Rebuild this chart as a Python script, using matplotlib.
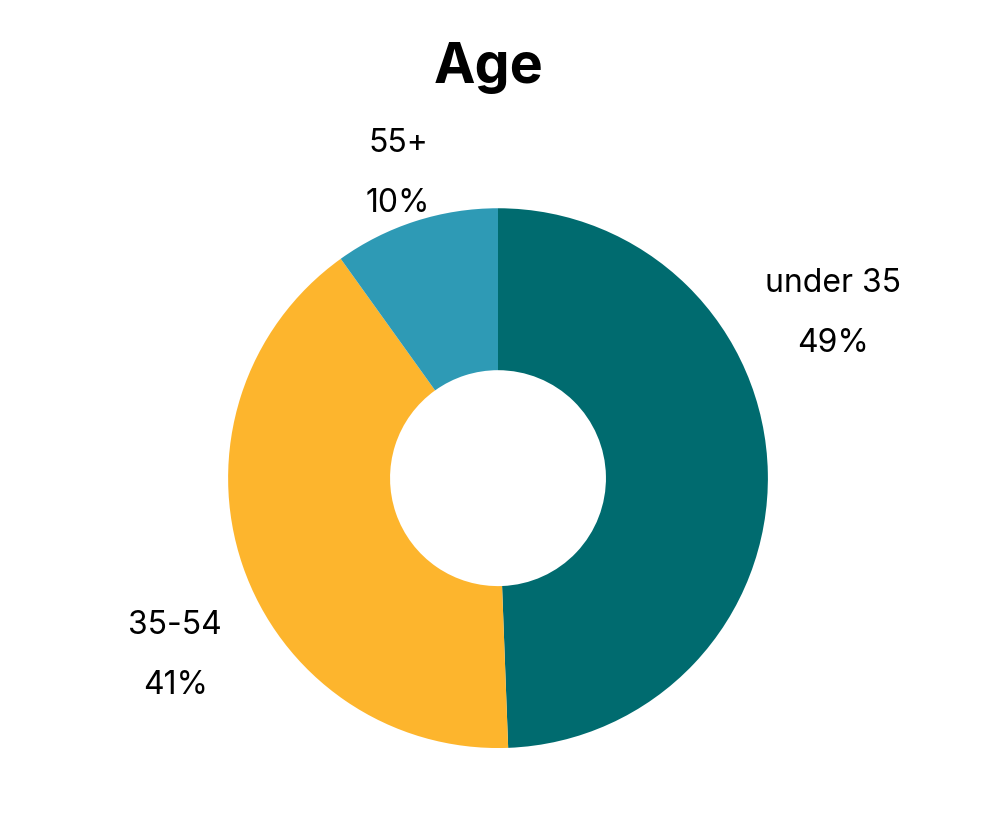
import matplotlib.pyplot as plt

labels = ['under 35', '35-54', '55+']
shares = [49.4, 40.7, 9.9]
colors = ['#006b6f', '#fdb52d', '#2e9ab5']

plt.rcParams['font.family'] = ['Inter', 'DejaVu Sans']

fig = plt.figure(figsize=(10, 8.33), dpi=100)
ax = fig.add_axes([0.228, 0.102, 0.54, 0.648])

ax.pie(shares, colors=colors, startangle=90, counterclock=False,
       radius=1, wedgeprops=dict(width=0.6, linewidth=0))
ax.set_xlim(-1, 1)
ax.set_ylim(-1, 1)
ax.set_aspect('equal')
ax.axis('off')

# label spots, hand placed like the original
spots = {'under 35': (1.24, 0.72), '35-54': (-1.196, -0.545), '55+': (-0.37, 1.24)}
for lab, val in zip(labels, shares):
    x, y = spots[lab]
    ax.text(x, y, lab, ha='center', va='center', fontsize=23, clip_on=False)
    ax.text(x, y - 0.222, f'{val:.0f}%', ha='center', va='center', fontsize=23, clip_on=False)

fig.text(0.489, 0.918, 'Age', ha='center', va='center', fontsize=40, fontweight='bold')

fig.savefig('out.png')
